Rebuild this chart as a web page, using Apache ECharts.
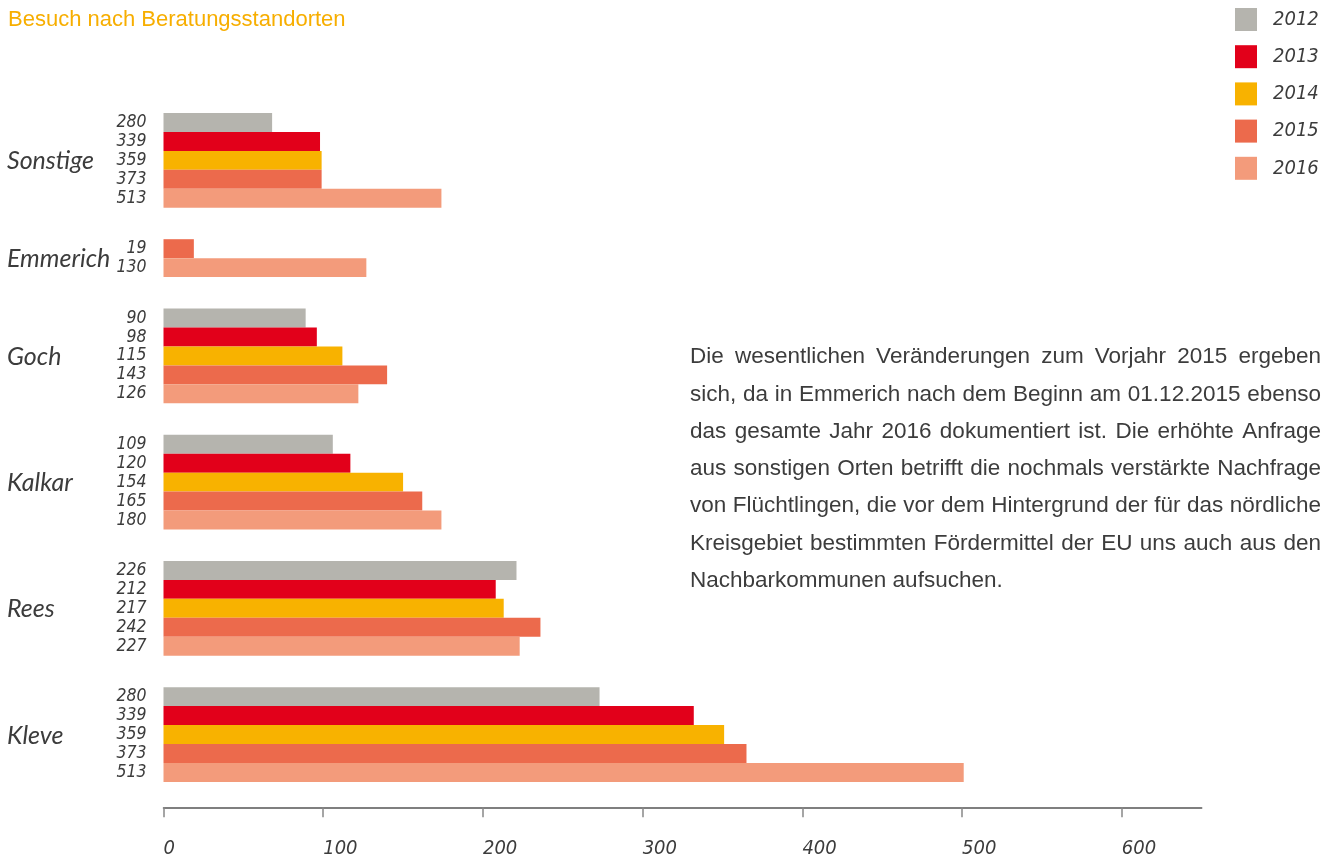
<!DOCTYPE html>
<html>
<head>
<meta charset="utf-8">
<script src="https://cdn.jsdelivr.net/npm/echarts@6/dist/echarts.min.js"></script>
<style>
  html, body { margin: 0; padding: 0; background: #fff; }
  #chart { width: 1335px; height: 861px; }
</style>
</head>
<body>
<div id="chart"></div>
<script>
// Standorte von oben nach unten
const locations = ['Sonstige', 'Emmerich', 'Goch', 'Kalkar', 'Rees', 'Kleve'];
const years = ['2012', '2013', '2014', '2015', '2016'];

const values2012 = [68, null, 89, 106, 221, 273];
const values2013 = [98, null, 96, 117, 208, 332];
const values2014 = [99, null, 112, 150, 213, 351];
const values2015 = [99, 19, 140, 162, 236, 365];
const values2016 = [174, 127, 122, 174, 223, 501];

// gedruckte Zahlen links neben den Balken
const labels2012 = [280, null, 90, 109, 226, 280];
const labels2013 = [339, null, 98, 120, 212, 339];
const labels2014 = [359, null, 115, 154, 217, 359];
const labels2015 = [373, 19, 143, 165, 242, 373];
const labels2016 = [513, 130, 126, 180, 227, 513];

const xTicks = [0, 100, 200, 300, 400, 500, 600];

const colors = ['#b5b4ae', '#e2001a', '#f8b200', '#ec6a4c', '#f39b7b'];

const noteLines = [
  'Die wesentlichen Veränderungen zum Vorjahr 2015 ergeben',
  'sich, da in Emmerich nach dem Beginn am 01.12.2015 ebenso',
  'das gesamte Jahr 2016 dokumentiert ist. Die erhöhte Anfrage',
  'aus sonstigen Orten betrifft die nochmals verstärkte Nachfrage',
  'von Flüchtlingen, die vor dem Hintergrund der für das nördliche',
  'Kreisgebiet bestimmten Fördermittel der EU uns auch aus den',
  'Nachbarkommunen aufsuchen.'
];

const allValues = [values2012, values2013, values2014, values2015, values2016];
const allLabels = [labels2012, labels2013, labels2014, labels2015, labels2016];

// Slots: jeder Balken ein Slot, zwischen den Gruppen eine Luecke
const GAP = 1.66;
const yearData = years.map(() => []);
const groupCenters = [];
let slot = 0;
locations.forEach((loc, li) => {
  const start = slot;
  years.forEach((y, yi) => {
    if (allValues[yi][li] != null) {
      yearData[yi].push([allValues[yi][li], slot, allLabels[yi][li]]);
      slot += 1;
    }
  });
  groupCenters.push([0, (start + slot) / 2, li]);
  slot += GAP;
});
const yMax = slot - GAP + 1.34;

const numFont = '"DejaVu Sans Condensed", "DejaVu Sans", sans-serif';
const textFont = '"Liberation Sans", Arial, sans-serif';

const chart = echarts.init(document.getElementById('chart'));

// Fliesstext im Blocksatz
const ctx = document.createElement('canvas').getContext('2d');
const noteFont = '22.5px ' + textFont;
ctx.font = noteFont;
const noteLeft = 690, noteWidth = 631, noteTop = 357, noteStep = 37.3;
const noteEls = [];
noteLines.forEach((line, i) => {
  const y = noteTop + i * noteStep;
  const words = line.split(' ');
  if (i === noteLines.length - 1) {
    noteEls.push({ type: 'text', x: noteLeft, y: y,
      style: { text: line, font: noteFont, fill: '#3c3c3c', verticalAlign: 'middle' } });
    return;
  }
  const widths = words.map(w => ctx.measureText(w).width);
  const total = widths.reduce((a, b) => a + b, 0);
  const gap = (noteWidth - total) / (words.length - 1);
  let x = noteLeft;
  words.forEach((w, wi) => {
    noteEls.push({ type: 'text', x: x, y: y,
      style: { text: w, font: noteFont, fill: '#3c3c3c', verticalAlign: 'middle' } });
    x += widths[wi] + gap;
  });
});

function renderBar(params, api) {
  const v = api.value(0);
  const s = api.value(1);
  const p0 = api.coord([0, s]);
  const p1 = api.coord([v, s + 1]);
  return {
    type: 'group',
    children: [
      {
        type: 'rect',
        shape: { x: p0[0], y: p0[1], width: p1[0] - p0[0], height: p1[1] - p0[1] },
        style: { fill: api.visual('color') }
      },
      {
        type: 'text',
        x: p0[0] - 17,
        y: (p0[1] + p1[1]) / 2,
        style: {
          text: String(api.value(2)),
          font: 'italic 17.5px ' + numFont,
          fill: '#3c3c3c',
          align: 'right',
          verticalAlign: 'middle'
        }
      }
    ]
  };
}

function renderName(params, api) {
  const p = api.coord([0, api.value(1)]);
  return {
    type: 'text',
    x: 7,
    y: p[1] + 1,
    style: {
      text: locations[api.value(2)],
      font: 'italic 25px Lato, "Open Sans", sans-serif',
      fill: '#3c3c3c',
      verticalAlign: 'middle'
    }
  };
}

const series = years.map((y, yi) => ({
  name: y,
  type: 'custom',
  renderItem: renderBar,
  itemStyle: { color: colors[yi] },
  encode: { x: 0, y: 1 },
  data: yearData[yi],
  silent: true
}));
series.push({
  name: 'names',
  type: 'custom',
  renderItem: renderName,
  encode: { x: 0, y: 1 },
  data: groupCenters,
  silent: true
});

const option = {
  animation: false,
  title: {
    text: 'Besuch nach Beratungsstandorten',
    left: 8,
    top: 9,
    padding: 0,
    textStyle: { fontFamily: textFont, fontSize: 22, fontWeight: 'normal', color: '#f7ae00' }
  },
  legend: {
    data: years,
    orient: 'vertical',
    left: 1235,
    top: 8,
    padding: 0,
    icon: 'rect',
    itemWidth: 22,
    itemHeight: 23,
    itemGap: 14.2,
    selectedMode: false,
    textStyle: { fontFamily: numFont, fontStyle: 'italic', fontSize: 20, color: '#3c3c3c', padding: [0, 0, 0, 11] }
  },
  grid: { left: 163.5, right: 133.3, top: 113, bottom: 53.7 },
  xAxis: {
    type: 'value',
    min: 0,
    max: 650,
    interval: 50,
    splitLine: { show: false },
    axisLine: { show: true, onZero: false, lineStyle: { color: '#555', width: 1.5 } },
    axisTick: { show: true, customValues: xTicks, length: 10, lineStyle: { color: '#888', width: 1.5 } },
    axisLabel: {
      customValues: xTicks,
      align: 'left',
      margin: 31,
      fontFamily: numFont,
      fontStyle: 'italic',
      fontSize: 20,
      color: '#3c3c3c'
    }
  },
  yAxis: {
    type: 'value',
    inverse: true,
    min: 0,
    max: yMax,
    show: false
  },
  graphic: noteEls,
  series: series
};

chart.setOption(option);
</script>
</body>
</html>
